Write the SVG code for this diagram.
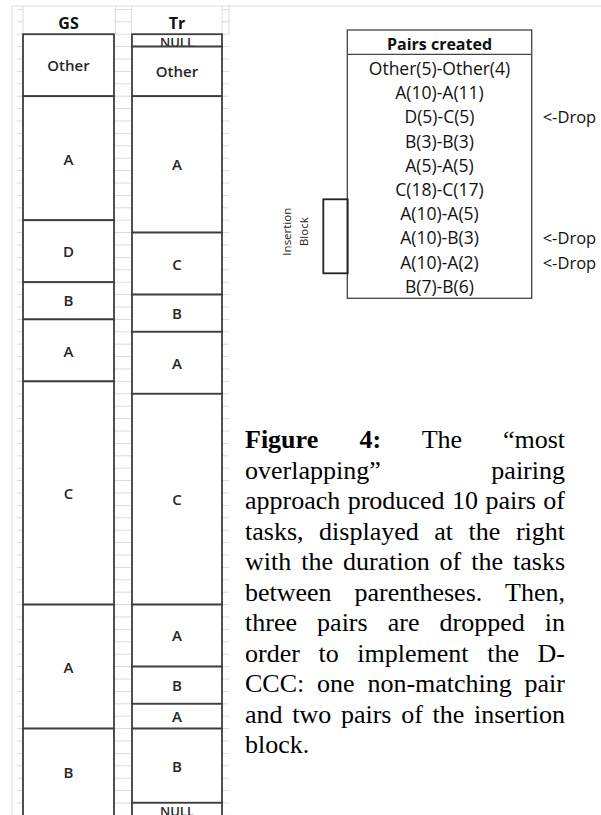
<svg xmlns="http://www.w3.org/2000/svg" width="601" height="815" viewBox="0 0 601 815">
<defs>
<pattern id="grid" patternUnits="userSpaceOnUse" x="0" y="21.3" width="10" height="12.4">
<rect x="0" y="0" width="10" height="1" fill="#d9d9d9"/>
</pattern>
<style>
.cell{fill:#fff;stroke:#3d3d3d;stroke-width:1.8}
.lbl{font-family:"Open Sans","Noto Sans",sans-serif;font-size:15px;font-weight:600;fill:#262626;text-anchor:middle}
.nul{font-size:13px}
.hdr{font-family:"Open Sans","Noto Sans",sans-serif;font-weight:bold;font-size:16px;fill:#111;text-anchor:middle}
.row{font-family:"Open Sans","Noto Sans",sans-serif;font-size:17.5px;fill:#111;text-anchor:middle}
.drop{font-family:"Open Sans","Noto Sans",sans-serif;font-size:16.5px;fill:#111}
.ins{font-family:"Open Sans","Noto Sans",sans-serif;font-size:11.5px;fill:#222;text-anchor:middle}
.cap{font-family:"Liberation Serif","Times New Roman",serif;font-size:26px;fill:#000}
.b{font-weight:bold}
.e{text-anchor:end}
.gl{stroke:#dcdcdc;stroke-width:1;fill:none}
</style>
</defs>
<rect width="601" height="815" fill="#fff"/>
<g id="sheet-grid">
<path class="gl" d="M12 6H601M12 6V815M23 6V34M115.5 6V34M131.5 6V34M222 6V34M229 6V34"/>
<rect x="17" y="9" width="6" height="806" fill="url(#grid)"/>
<rect x="114" y="9" width="18" height="806" fill="url(#grid)"/>
<rect x="222" y="9" width="7" height="806" fill="url(#grid)"/>
</g>
<g id="gs-column">
<text class="hdr" x="68.5" y="29">GS</text>
<g id="gs-other"><rect class="cell" x="23" y="34.2" width="91" height="62"/><text class="lbl" x="68.5" y="70.7">Other</text></g>
<g id="gs-a1"><rect class="cell" x="23" y="96.2" width="91" height="124"/><text class="lbl" x="68.5" y="164.7">A</text></g>
<g id="gs-d"><rect class="cell" x="23" y="220.2" width="91" height="62"/><text class="lbl" x="68.5" y="257.1">D</text></g>
<g id="gs-b1"><rect class="cell" x="23" y="282.2" width="91" height="37.2"/><text class="lbl" x="68.5" y="306.4">B</text></g>
<g id="gs-a2"><rect class="cell" x="23" y="319.4" width="91" height="62"/><text class="lbl" x="68.5" y="357.1">A</text></g>
<g id="gs-c"><rect class="cell" x="23" y="381.4" width="91" height="223.2"/><text class="lbl" x="68.5" y="498.7">C</text></g>
<g id="gs-a3"><rect class="cell" x="23" y="604.6" width="91" height="124"/><text class="lbl" x="68.5" y="673.1">A</text></g>
<g id="gs-b2"><rect class="cell" x="23" y="728.6" width="91" height="110"/><text class="lbl" x="68.5" y="777.7">B</text></g>
</g>
<g id="tr-column">
<text class="hdr" x="177" y="29">Tr</text>
<g id="tr-null1"><text class="lbl nul" x="177" y="46.8">NULL</text><rect class="cell" x="132" y="34.2" width="90" height="12.4" fill-opacity="0"/></g>
<g id="tr-other"><rect class="cell" x="132" y="46.6" width="90" height="49.6"/><text class="lbl" x="177" y="77.1">Other</text></g>
<g id="tr-a1"><rect class="cell" x="132" y="96.2" width="90" height="136.4"/><text class="lbl" x="177" y="170.4">A</text></g>
<g id="tr-c1"><rect class="cell" x="132" y="232.6" width="90" height="62"/><text class="lbl" x="177" y="269.7">C</text></g>
<g id="tr-b1"><rect class="cell" x="132" y="294.6" width="90" height="37.2"/><text class="lbl" x="177" y="318.7">B</text></g>
<g id="tr-a2"><rect class="cell" x="132" y="331.8" width="90" height="62"/><text class="lbl" x="177" y="368.7">A</text></g>
<g id="tr-c2"><rect class="cell" x="132" y="393.8" width="90" height="210.8"/><text class="lbl" x="177" y="505.4">C</text></g>
<g id="tr-a3"><rect class="cell" x="132" y="604.6" width="90" height="62"/><text class="lbl" x="177" y="641.4">A</text></g>
<g id="tr-b2"><rect class="cell" x="132" y="666.6" width="90" height="37.2"/><text class="lbl" x="177" y="691.4">B</text></g>
<g id="tr-a4"><rect class="cell" x="132" y="703.8" width="90" height="24.8"/><text class="lbl" x="177" y="722.1">A</text></g>
<g id="tr-b3"><rect class="cell" x="132" y="728.6" width="90" height="74.2"/><text class="lbl" x="177" y="772.1">B</text></g>
<g id="tr-null2"><rect class="cell" x="132" y="802.8" width="90" height="40"/><text class="lbl nul" x="177" y="816">NULL</text></g>
</g>
<g id="pairs-table">
<rect x="347.3" y="30" width="184.4" height="268.3" fill="#fff" stroke="#444" stroke-width="1.3"/>
<line x1="347.3" y1="54.3" x2="531.7" y2="54.3" stroke="#444" stroke-width="1.3"/>
<text class="hdr" x="439.5" y="50">Pairs created</text>
<text class="row" x="439.5" y="75">Other(5)-Other(4)</text>
<text class="row" x="439.5" y="99.2">A(10)-A(11)</text>
<text class="row" x="439.5" y="123.4">D(5)-C(5)</text>
<text class="row" x="439.5" y="147.6">B(3)-B(3)</text>
<text class="row" x="439.5" y="171.8">A(5)-A(5)</text>
<text class="row" x="439.5" y="196">C(18)-C(17)</text>
<text class="row" x="439.5" y="220.2">A(10)-A(5)</text>
<text class="row" x="439.5" y="244.4">A(10)-B(3)</text>
<text class="row" x="439.5" y="268.6">A(10)-A(2)</text>
<text class="row" x="439.5" y="292.8">B(7)-B(6)</text>
</g>
<g id="drop-labels">
<text class="drop" x="542.7" y="123.4">&lt;-Drop</text>
<text class="drop" x="542.7" y="244.4">&lt;-Drop</text>
<text class="drop" x="542.7" y="268.6">&lt;-Drop</text>
</g>
<g id="insertion-block">
<rect x="323.3" y="199.3" width="24.4" height="74" fill="none" stroke="#222" stroke-width="1.8"/>
<text class="ins" transform="translate(290.5 231.7) rotate(-90)">Insertion</text>
<text class="ins" transform="translate(308 231.7) rotate(-90)">Block</text>
</g>
<g id="caption" class="cap">
<text y="448"><tspan class="b" x="245">Figure</tspan><tspan class="b" x="359.4">4:</tspan><tspan x="421.7">The</tspan></text>
<text class="e" x="565" y="448">“most</text>
<text x="245" y="478.5">overlapping”</text>
<text class="e" x="565" y="478.5">pairing</text>
<text y="509"><tspan x="245">approach</tspan><tspan x="347.7">produced</tspan><tspan x="451.9">10</tspan><tspan x="485.4">pairs</tspan></text>
<text class="e" x="565" y="509">of</text>
<text y="539.5"><tspan x="245">tasks,</tspan><tspan x="319.1">displayed</tspan><tspan x="434.3">at</tspan><tspan x="468.6">the</tspan></text>
<text class="e" x="565" y="539.5">right</text>
<text y="570"><tspan x="245">with</tspan><tspan x="301.2">the</tspan><tspan x="343">duration</tspan><tspan x="439.6">of</tspan><tspan x="471.2">the</tspan></text>
<text class="e" x="565" y="570">tasks</text>
<text y="600.5"><tspan x="245">between</tspan><tspan x="354.5">parentheses.</tspan></text>
<text class="e" x="565" y="600.5">Then,</text>
<text y="631"><tspan x="245">three</tspan><tspan x="317.1">pairs</tspan><tspan x="387.7">are</tspan><tspan x="439.5">dropped</tspan></text>
<text class="e" x="565" y="631">in</text>
<text y="661.5"><tspan x="245">order</tspan><tspan x="318.5">to</tspan><tspan x="357.3">implement</tspan><tspan x="487.2">the</tspan></text>
<text class="e" x="565" y="661.5">D-</text>
<text y="692"><tspan x="245">CCC:</tspan><tspan x="317">one</tspan><tspan x="367.4">non-matching</tspan></text>
<text class="e" x="565" y="692">pair</text>
<text y="722.5"><tspan x="245">and</tspan><tspan x="292.2">two</tspan><tspan x="340.9">pairs</tspan><tspan x="401.2">of</tspan><tspan x="432.5">the</tspan></text>
<text class="e" x="565" y="722.5">insertion</text>
<text x="245" y="753">block.</text>
</g>
</svg>
